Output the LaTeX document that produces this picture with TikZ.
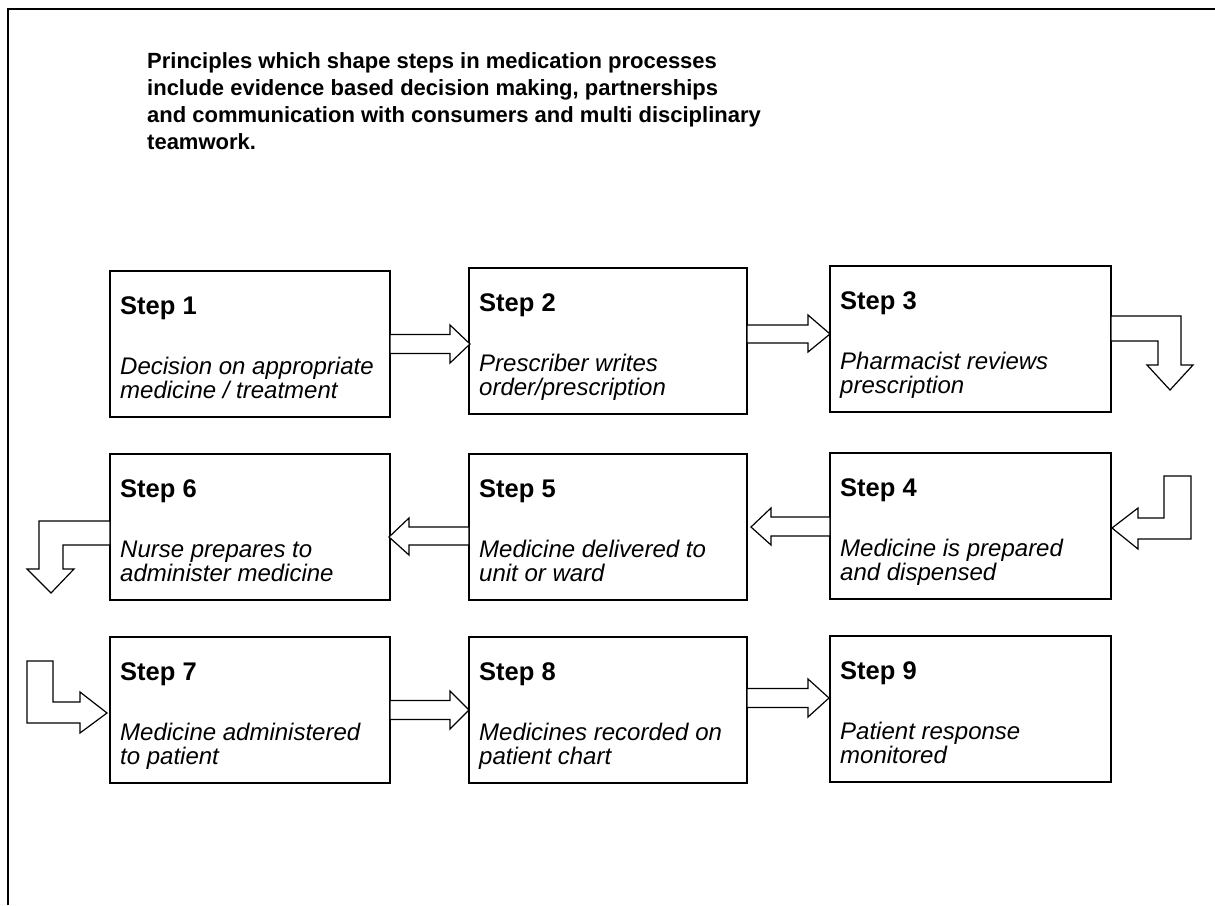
\documentclass[tikz,border=0pt]{standalone}
\usepackage{fontspec}
\setmainfont{Liberation Sans}
\usetikzlibrary{calc}
\begin{document}
\begin{tikzpicture}[x=1pt,y=-1pt,
  stepbox/.style={draw, line width=1.2pt, inner sep=0pt, outer sep=0pt, anchor=north west, minimum height=146pt},
  steplbl/.style={anchor=base west, inner sep=0pt, font=\fontsize{25.5}{30}\selectfont\bfseries},
  desc/.style={anchor=base west, inner sep=0pt, font=\fontsize{24}{25}\selectfont\itshape},
  titleline/.style={anchor=base west, inner sep=0pt, font=\fontsize{22}{27}\selectfont\bfseries},
  blockarrow/.style={draw, line width=1.2pt, fill=white, line join=miter},
  frame/.style={line width=1.8pt}]
\useasboundingbox (0,0) rectangle (1215,905);
\fill[white] (0,0) rectangle (1215,905);
\draw[frame] (8,905) -- (8,9) -- (1215,9);

% title
\node[titleline] (t1) at (147,68) {Principles which shape steps in medication processes};
\node[titleline] (t2) at (147,95) {include evidence based decision making, partnerships};
\node[titleline] (t3) at (147,122) {and communication with consumers and multi disciplinary};
\node[titleline] (t4) at (147,149) {teamwork.};

% boxes
\node[stepbox, minimum width=280pt] (s1) at (110,271) {};
\node[stepbox, minimum width=278pt] (s2) at (469,268) {};
\node[stepbox, minimum width=281pt] (s3) at (830,266) {};
\node[stepbox, minimum width=281pt] (s4) at (830,453) {};
\node[stepbox, minimum width=278pt] (s5) at (469,454) {};
\node[stepbox, minimum width=280pt] (s6) at (110,454) {};
\node[stepbox, minimum width=280pt] (s7) at (110,637) {};
\node[stepbox, minimum width=278pt] (s8) at (469,637) {};
\node[stepbox, minimum width=281pt] (s9) at (830,636) {};

% labels
\foreach \b/\n/\la/\lb in {s1/1/{Decision on appropriate}/{medicine / treatment},
  s2/2/{Prescriber writes}/{order/prescription},
  s3/3/{Pharmacist reviews}/{prescription},
  s4/4/{Medicine is prepared}/{and dispensed},
  s5/5/{Medicine delivered to}/{unit or ward},
  s6/6/{Nurse prepares to}/{administer medicine},
  s7/7/{Medicine administered}/{to patient},
  s8/8/{Medicines recorded on}/{patient chart},
  s9/9/{Patient response}/{monitored}}{
  \node[steplbl] (\b t) at ($(\b.north west)+(10,43)$) {Step \n};
  \node[desc] (\b a) at ($(\b.north west)+(10,103)$) {\la};
  \node[desc] (\b b) at ($(\b.north west)+(10,127)$) {\lb};
}

% straight block arrows
\draw[blockarrow, shift={(s1.east)}] (0,-9.5) -- (60,-9.5) -- (60,-19) -- (80,0) -- (60,19) -- (60,9.5) -- (0,9.5) -- cycle;
\draw[blockarrow, shift={(s2.east)}] (0,-16) -- (61,-16) -- (61,-26) -- (83,-7) -- (61,11) -- (61,2) -- (0,2) -- cycle;
\draw[blockarrow, shift={(s4.west)}] (0,-9) -- (-59,-9) -- (-59,-18) -- (-79,1) -- (-59,19) -- (-59,10) -- (0,10) -- cycle;
\draw[blockarrow, shift={(s5.west)}] (0,0) -- (-60,0) -- (-60,-9) -- (-80,10) -- (-60,28) -- (-60,18) -- (0,18) -- cycle;
\draw[blockarrow, shift={(s7.east)}] (0,-9.5) -- (60,-9.5) -- (60,-19) -- (79,0) -- (60,19) -- (60,9.5) -- (0,9.5) -- cycle;
\draw[blockarrow, shift={(s8.east)}] (0,-21.5) -- (61,-21.5) -- (61,-31) -- (82,-12) -- (61,7) -- (61,-2.5) -- (0,-2.5) -- cycle;

% bent block arrows
\draw[blockarrow, shift={(s3.east)}] (0,-23) -- (70,-23) -- (70,26) -- (82,26) -- (59,51) -- (36,26) -- (47,26) -- (47,2) -- (0,2) -- cycle;
\draw[blockarrow, shift={(s4.east)}] (1,2) -- (27,23) -- (27,13) -- (80,13) -- (80,-50) -- (53,-50) -- (53,-8) -- (27,-8) -- (27,-18) -- cycle;
\draw[blockarrow, shift={(s6.west)}] (0,-6) -- (-71,-6) -- (-71,42) -- (-83,42) -- (-59,66) -- (-36,42) -- (-47,42) -- (-47,18) -- (0,18) -- cycle;
\draw[blockarrow, shift={(s7.west)}] (-3,3) -- (-30,23) -- (-30,13) -- (-83,13) -- (-83,-49) -- (-57,-49) -- (-57,-8) -- (-30,-8) -- (-30,-18) -- cycle;
\end{tikzpicture}
\end{document}
